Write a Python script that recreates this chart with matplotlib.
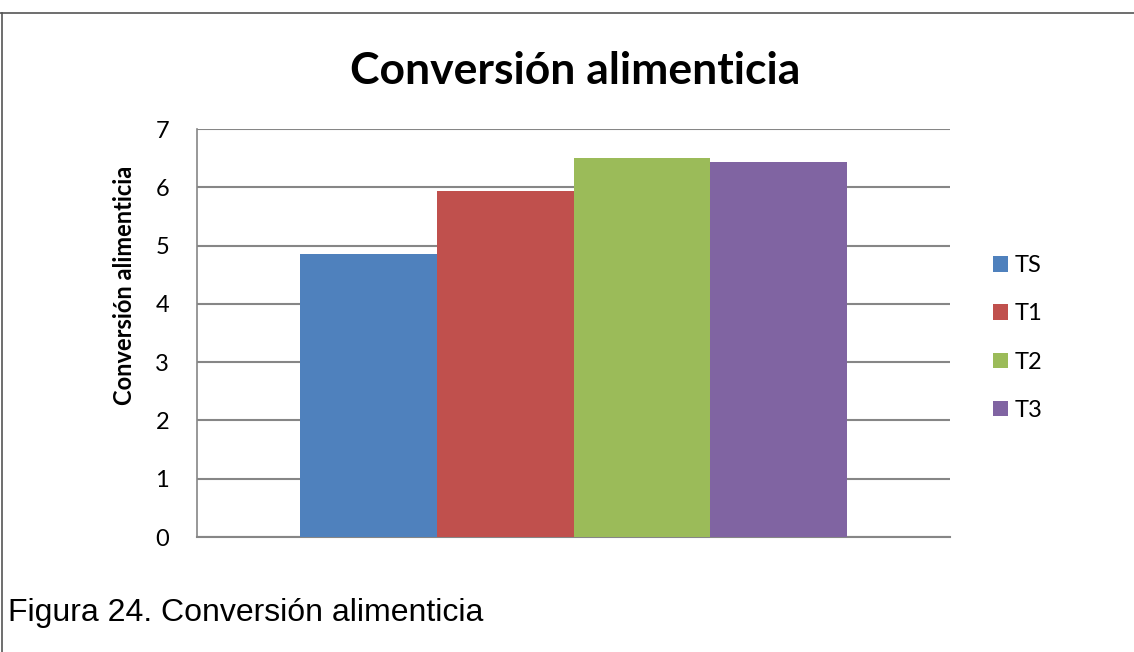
import matplotlib.pyplot as plt
from matplotlib.patches import Patch
from matplotlib.lines import Line2D

plt.rcParams["font.family"] = ["Lato", "DejaVu Sans"]

series = ["TS", "T1", "T2", "T3"]
valores = [4.86, 5.94, 6.50, 6.43]
colores = ["#4F81BD", "#C0504D", "#9BBB59", "#8064A2"]
y_ticks = [0, 1, 2, 3, 4, 5, 6, 7]

fig = plt.figure(figsize=(11.34, 6.52), dpi=100)
ax = fig.add_axes([197 / 1134, 1 - 537 / 652, 753 / 1134, 408 / 652])

# una sola categoria, cuatro series una al lado de otra
pos = [i - 1.5 for i in range(len(series))]
for p, v, c in zip(pos, valores, colores):
    ax.bar(p, v, width=1.0, color=c, zorder=3)

ax.set_xlim(-2.75, 2.75)
ax.set_ylim(0, 7)
ax.set_yticks(y_ticks)
ax.set_xticks([])
ax.yaxis.grid(True, color="#868686", linewidth=1.5, zorder=0)
for s in ["top", "right"]:
    ax.spines[s].set_visible(False)
ax.spines["left"].set_color("#868686")
ax.spines["bottom"].set_color("#868686")
ax.spines["left"].set_linewidth(1.2)
ax.spines["bottom"].set_linewidth(1.5)
ax.tick_params(axis="y", length=0, pad=20, labelsize=17)

fig.text(575 / 1134, 1 - 84 / 652, "Conversión alimenticia", ha="center", va="baseline",
         fontsize=32, fontweight="bold")
fig.text(124 / 1134, 1 - 285 / 652, "Conversión alimenticia", ha="center", va="center",
         rotation=90, fontsize=17, fontweight="bold")
fig.text(8 / 1134, 1 - 621 / 652, "Figura 24. Conversión alimenticia", ha="left", va="baseline",
         fontsize=23, family=["Liberation Sans", "DejaVu Sans"])

handles = [Patch(facecolor=c, edgecolor="none") for c in colores]
fig.legend(handles, series, loc="center left", bbox_to_anchor=(972 / 1134, 1 - 338 / 652),
           frameon=False, fontsize=17, handlelength=0.62, handleheight=0.62,
           handletextpad=0.3, labelspacing=1.15)

# marco del recuadro (solo arriba e izquierda)
fig.add_artist(Line2D([0, 1], [1 - 13 / 652, 1 - 13 / 652], transform=fig.transFigure,
                      color="#555555", linewidth=1.2))
fig.add_artist(Line2D([2 / 1134, 2 / 1134], [0, 1 - 13 / 652], transform=fig.transFigure,
                      color="#555555", linewidth=1.2))

fig.savefig("out.png", dpi=100)
